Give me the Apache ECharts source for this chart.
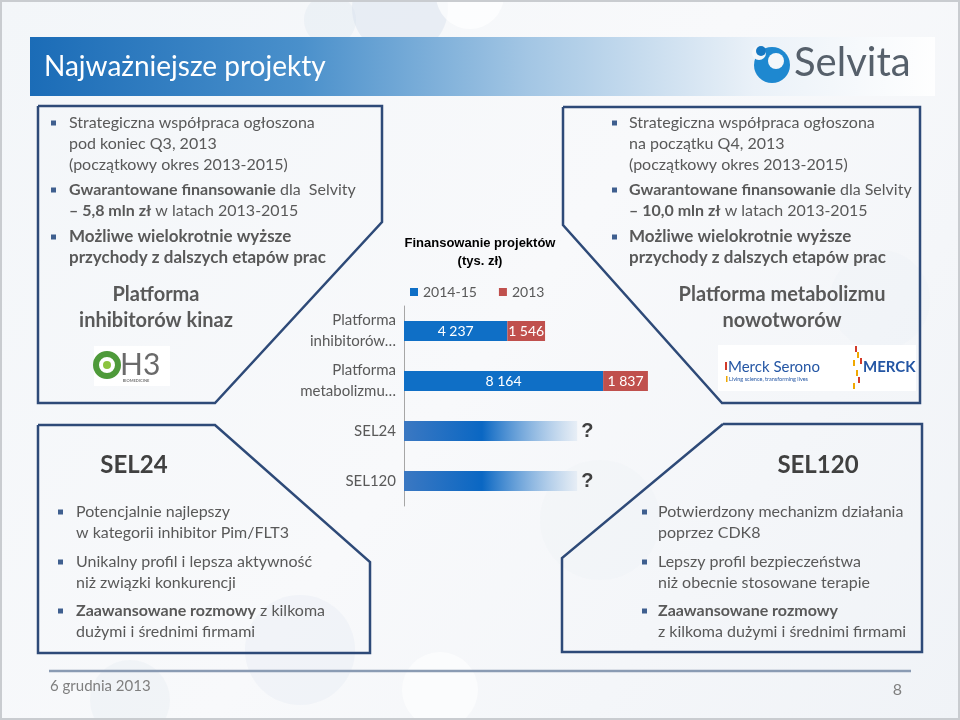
<!DOCTYPE html>
<html><head><meta charset="utf-8">
<script src="https://cdn.jsdelivr.net/npm/echarts@6/dist/echarts.min.js"></script>
<style>html,body{margin:0;padding:0;background:#fff}#c{width:960px;height:720px}</style>
</head><body><div id="c"></div>
<script>
// ---- chart data ----
const categories = ['Platforma inhibitorów…', 'Platforma metabolizmu…'];
const seriesNames = ['2014-15', '2013'];
const values2014_15 = [4237, 8164];
const values2013 = [1546, 1837];
const selCategories = ['SEL24', 'SEL120'];
const selValues = [7100, 7100];
const chartTitle = 'Finansowanie projektów\n(tys. zł)';

// ---- slide texts ----
const slideTitle = 'Najważniejsze projekty';
const leftTopLines = ['Strategiczna współpraca ogłoszona', 'pod koniec Q3, 2013', '(początkowy okres 2013-2015)',
  '{b|Gwarantowane finansowanie} dla  Selvity', '{b|– 5,8 mln zł} w latach 2013-2015',
  'Możliwe wielokrotnie wyższe', 'przychody z dalszych etapów prac'];
const rightTopLines = ['Strategiczna współpraca ogłoszona', 'na początku Q4, 2013', '(początkowy okres 2013-2015)',
  '{b|Gwarantowane finansowanie} dla Selvity', '{b|– 10,0 mln zł} w latach 2013-2015',
  'Możliwe wielokrotnie wyższe', 'przychody z dalszych etapów prac'];
const leftBottomLines = ['Potencjalnie najlepszy', 'w kategorii inhibitor Pim/FLT3', 'Unikalny profil i lepsza aktywność',
  'niż związki konkurencji', '{b|Zaawansowane rozmowy} z kilkoma', 'dużymi i średnimi firmami'];
const rightBottomLines = ['Potwierdzony mechanizm działania', 'poprzez CDK8', 'Lepszy profil bezpieczeństwa',
  'niż obecnie stosowane terapie', '{b|Zaawansowane rozmowy}', 'z kilkoma dużymi i średnimi firmami'];

const F = 'Lato, "Open Sans", sans-serif';
const GRAY = '#595959';
const LINE = '#2e4a78';
const G = [];

function txt(x, y, text, font, fill, align, z) {
  G.push({ type: 'text', x: x, y: y, z: z || 10, style: {
    text: text, font: font, fill: fill || GRAY,
    textAlign: align || 'left', textVerticalAlign: 'middle', align: align || 'left', verticalAlign: 'middle',
    rich: { b: { font: font.replace(/^(\d)/, 'bold $1'), fill: fill || GRAY } }
  }});
}
function bullet(x, y) {
  G.push({ type: 'rect', z: 10, shape: { x: x, y: y - 2.5, width: 5, height: 5 }, style: { fill: '#3f5f8f' } });
}
function box(points) {
  G.push({ type: 'polyline', z: 5, shape: { points: points.concat([points[0]]) },
    style: { stroke: LINE, lineWidth: 2.5, fill: null } });
}

// background
G.push({ type: 'rect', z: -30, shape: { x: 0, y: 0, width: 960, height: 720 },
  style: { fill: new echarts.graphic.LinearGradient(0, 0, 1, 1, [
    { offset: 0, color: '#f3f6f9' }, { offset: 0.5, color: '#f8f9fb' }, { offset: 1, color: '#f0f3f7' }]) } });
[[400, 8, 48, 'rgba(205,218,232,0.35)'], [470, -5, 34, 'rgba(255,255,255,0.7)'], [330, 20, 26, 'rgba(210,222,235,0.25)'],
 [300, 650, 55, 'rgba(220,229,238,0.25)'], [440, 690, 38, 'rgba(255,255,255,0.6)'], [130, 700, 40, 'rgba(215,225,236,0.2)'],
 [600, 520, 60, 'rgba(225,232,240,0.15)'], [880, 300, 50, 'rgba(228,234,241,0.15)']].forEach(function (c) {
  G.push({ type: 'circle', z: -25, shape: { cx: c[0], cy: c[1], r: c[2] }, style: { fill: c[3] } });
});
G.push({ type: 'rect', z: -5, shape: { x: 1, y: 1, width: 958, height: 718 }, style: { fill: null, stroke: '#c9ccd0', lineWidth: 2 } });

// header band
G.push({ type: 'rect', z: 1, shape: { x: 30, y: 37, width: 905, height: 59 },
  style: { fill: new echarts.graphic.LinearGradient(0, 0, 1, 0, [
    { offset: 0, color: '#1b6cb7' }, { offset: 0.3, color: '#4a90cb' }, { offset: 0.55, color: '#a3c6e4' },
    { offset: 0.8, color: '#eaf1f8' }, { offset: 1, color: 'rgba(255,255,255,0.9)' }]) } });
txt(44, 67, slideTitle, '28px ' + F, '#ffffff');
// Selvita logo
G.push({ type: 'circle', z: 10, shape: { cx: 772, cy: 65, r: 18 }, style: { fill: '#1e88d0' } });
G.push({ type: 'circle', z: 11, shape: { cx: 776, cy: 61, r: 8 }, style: { fill: '#f4f7fa' } });
G.push({ type: 'circle', z: 11, shape: { cx: 759, cy: 53, r: 7 }, style: { fill: '#f4f7fa' } });
G.push({ type: 'circle', z: 12, shape: { cx: 761, cy: 51, r: 5 }, style: { fill: '#1678c2' } });
txt(794, 63, 'Selvita', '40px ' + F, '#56606b');

// boxes
box([[38, 106], [382, 106], [382, 222], [215, 403], [38, 403]]);
box([[563, 107], [920, 107], [920, 403], [722, 403], [563, 225]]);
box([[38, 425], [215, 425], [370, 562], [370, 653], [38, 653]]);
box([[723, 424], [922, 424], [922, 652], [562, 652], [562, 558]]);

// top texts
const topY = [123, 144, 165, 190, 211, 237, 258];
leftTopLines.forEach(function (t, i) {
  txt(69, topY[i], t, (i >= 5 ? 'bold 17px ' : '16px ') + F);
});
rightTopLines.forEach(function (t, i) {
  txt(629, topY[i], t, (i >= 5 ? 'bold 17px ' : '16px ') + F);
});
[123, 190, 237].forEach(function (y) { bullet(51, y); bullet(612, y); });
txt(156, 295, 'Platforma', 'bold 20px ' + F, GRAY, 'center');
txt(156, 321, 'inhibitorów kinaz', 'bold 20px ' + F, GRAY, 'center');
txt(782, 295, 'Platforma metabolizmu', 'bold 20px ' + F, GRAY, 'center');
txt(782, 321, 'nowotworów', 'bold 20px ' + F, GRAY, 'center');

// H3 logo
G.push({ type: 'rect', z: 6, shape: { x: 94, y: 346, width: 76, height: 40 }, style: { fill: '#ffffff' } });
G.push({ type: 'circle', z: 7, shape: { cx: 107, cy: 365, r: 11 }, style: { fill: null, stroke: '#4e9a3a', lineWidth: 6 } });
G.push({ type: 'circle', z: 7, shape: { cx: 107, cy: 365, r: 4 }, style: { fill: '#8cc43f' } });
txt(120, 365, 'H3', '30px ' + F, '#6a6a6a');
txt(136, 381, 'BIOMEDICINE', 'bold 4px ' + F, '#777777', 'center');
// Merck logos
G.push({ type: 'rect', z: 6, shape: { x: 718, y: 345, width: 198, height: 46 }, style: { fill: '#ffffff' } });
txt(728, 367, 'Merck Serono', '15px ' + F, '#2456a4');
txt(729, 379, 'Living science, transforming lives', '5.5px ' + F, '#2456a4');
G.push({ type: 'rect', z: 7, shape: { x: 725, y: 362, width: 2, height: 8 }, style: { fill: '#d23a2a' } });
G.push({ type: 'rect', z: 7, shape: { x: 726, y: 376, width: 1.5, height: 6 }, style: { fill: '#f0a800' } });
txt(863, 367, 'MERCK', 'bold 15px ' + F, '#2456a4');
[[855, 346, '#d23a2a'], [857, 352, '#f0a800'], [853, 360, '#f0a800'], [860, 358, '#d23a2a'], [856, 370, '#f0a800'], [858, 377, '#d23a2a'], [853, 383, '#f0a800']].forEach(function (m) {
  G.push({ type: 'rect', z: 7, shape: { x: m[0], y: m[1], width: 2, height: 6 }, style: { fill: m[2] } });
});

// bottom boxes
const botY = [512, 533, 562, 583, 611, 632];
txt(134, 465, 'SEL24', 'bold 24px ' + F, '#404040', 'center');
txt(818, 465, 'SEL120', 'bold 24px ' + F, '#404040', 'center');
leftBottomLines.forEach(function (t, i) { txt(76, botY[i], t, '16px ' + F); });
rightBottomLines.forEach(function (t, i) { txt(658, botY[i], t, '16px ' + F); });
[512, 562, 611].forEach(function (y) { bullet(58, y); bullet(642, y); });

// footer
G.push({ type: 'line', z: 5, shape: { x1: 49, y1: 671, x2: 911, y2: 671 }, style: { stroke: '#8a9bb3', lineWidth: 2.5 } });
txt(50, 686, '6 grudnia 2013', '15px ' + F, '#7f7f7f');
txt(902, 690, '8', '16px ' + F, '#7f7f7f', 'right');

function fmt(v) { return String(v).replace(/\B(?=(\d{3})+(?!\d))/g, ' '); }
const axisCommon = {
  type: 'category', inverse: true,
  axisLine: { lineStyle: { color: '#a6a6a6', width: 1 } },
  axisTick: { length: 5, lineStyle: { color: '#a6a6a6' } },
  axisLabel: { color: GRAY, fontFamily: F, fontSize: 15, lineHeight: 21, margin: 8 }
};

const chart = echarts.init(document.getElementById('c'), null, { renderer: 'canvas' });
chart.setOption({
  animation: false,
  title: { text: chartTitle, left: 'center', top: 229,
    textStyle: { fontFamily: '"Liberation Sans", Arial, sans-serif', fontWeight: 'bold', fontSize: 13, lineHeight: 18, color: '#000' } },
  legend: { data: seriesNames, left: 405, top: 280, icon: 'rect', itemWidth: 8, itemHeight: 8, itemGap: 22,
    textStyle: { color: GRAY, fontFamily: F, fontSize: 14 } },
  grid: [
    { left: 404, top: 306, width: 250, height: 100, containLabel: false },
    { left: 404, top: 406, width: 250, height: 100, containLabel: false }
  ],
  xAxis: [
    { type: 'value', gridIndex: 0, min: 0, max: 10250, show: false },
    { type: 'value', gridIndex: 1, min: 0, max: 10250, show: false }
  ],
  yAxis: [
    Object.assign({}, axisCommon, { gridIndex: 0, data: categories,
      axisLabel: Object.assign({}, axisCommon.axisLabel, { formatter: function (s) { return s.replace(' ', '\n'); } }) }),
    Object.assign({}, axisCommon, { gridIndex: 1, data: selCategories })
  ],
  series: [
    { name: seriesNames[0], type: 'bar', stack: 'f', barWidth: 20, data: values2014_15, itemStyle: { color: '#0f6fc6' },
      label: { show: true, position: 'inside', color: '#fff', fontFamily: F, fontSize: 14, formatter: function (p) { return fmt(p.value); } } },
    { name: seriesNames[1], type: 'bar', stack: 'f', barWidth: 20, data: values2013, itemStyle: { color: '#c0504d' },
      label: { show: true, position: 'inside', color: '#fff', fontFamily: F, fontSize: 14, formatter: function (p) { return fmt(p.value); } } },
    { name: 'SEL', type: 'bar', xAxisIndex: 1, yAxisIndex: 1, barWidth: 20, data: selValues,
      itemStyle: { color: new echarts.graphic.LinearGradient(0, 0, 1, 0, [
        { offset: 0, color: '#3b78c2' }, { offset: 0.45, color: '#0a67c3' }, { offset: 1, color: 'rgba(225,234,244,0.7)' }]) },
      label: { show: true, position: 'right', distance: 4, formatter: '?', color: '#404040',
        fontFamily: '"Liberation Sans", Arial, sans-serif', fontWeight: 'bold', fontSize: 20 } }
  ],
  graphic: { elements: G }
});
</script>
</body></html>
